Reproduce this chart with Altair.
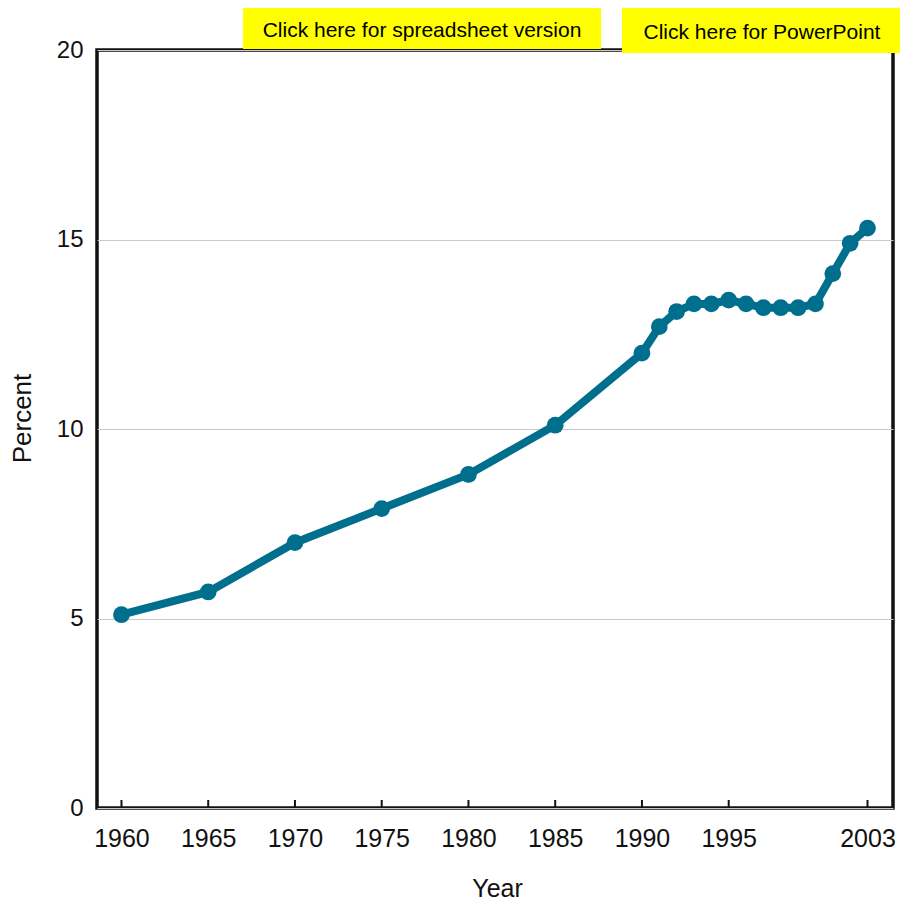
import altair as alt
import pandas as pd

years = [1960, 1965, 1970, 1975, 1980, 1985, 1990, 1991, 1992, 1993, 1994,
         1995, 1996, 1997, 1998, 1999, 2000, 2001, 2002, 2003]
percent = [5.1, 5.7, 7.0, 7.9, 8.8, 10.1, 12.0, 12.7, 13.1, 13.3, 13.3,
           13.4, 13.3, 13.2, 13.2, 13.2, 13.3, 14.1, 14.9, 15.3]
tick_years = [1960, 1965, 1970, 1975, 1980, 1985, 1990, 1995, 2003]
y_ticks = [0, 5, 10, 15, 20]
button_labels = ["Click here for spreadsheet version", "Click here for PowerPoint"]

W, H = 796, 758
TEAL = "#006f8e"
FONT = "Liberation Sans"

df = pd.DataFrame({"Year": years, "Percent": percent})
ticks_df = pd.DataFrame({"Year": tick_years})

xscale = alt.Scale(domain=[1958.59, 2004.47], nice=False, zero=False)
yscale = alt.Scale(domain=[0, 20], nice=False)

x_axis = alt.Axis(
    values=tick_years, format="d", title="Year", grid=False, ticks=False,
    domain=False, labelFont=FONT, labelFontSize=25, labelColor="#111111",
    labelPadding=18,
    titleFont=FONT, titleFontSize=25, titleFontWeight="normal", titleColor="#111111",
    titleX=400, titleY=80, titleAlign="center", titleBaseline="middle",
)
y_axis = alt.Axis(
    values=y_ticks, title="Percent", grid=True, gridColor="#c8c8c8", gridWidth=1,
    ticks=False, domain=False, labelFont=FONT, labelFontSize=24,
    labelColor="#111111", labelPadding=14,
    titleFont=FONT, titleFontSize=26, titleFontWeight="normal", titleColor="#111111",
    titleX=-75, titleY=368, titleAlign="center", titleBaseline="middle", titleAngle=270,
)

base = alt.Chart(df)
line = base.mark_line(color=TEAL, strokeWidth=8).encode(
    x=alt.X("Year:Q", scale=xscale, axis=x_axis),
    y=alt.Y("Percent:Q", scale=yscale, axis=y_axis),
)
points = base.mark_circle(color=TEAL, opacity=1, size=280).encode(
    x=alt.X("Year:Q", scale=xscale),
    y=alt.Y("Percent:Q", scale=yscale),
)
tick_marks = alt.Chart(ticks_df).mark_rule(color="#111111", strokeWidth=2).encode(
    x=alt.X("Year:Q", scale=xscale),
    y=alt.value(H),
    y2=alt.value(H - 8),
)

btn_df = pd.DataFrame({"label": button_labels})
btn1 = alt.Chart(btn_df.iloc[[0]]).mark_rect(color="#ffff00").encode(
    x=alt.value(146), x2=alt.value(504), y=alt.value(-44), y2=alt.value(-1))
btn2 = alt.Chart(btn_df.iloc[[1]]).mark_rect(color="#ffff00").encode(
    x=alt.value(525), x2=alt.value(805), y=alt.value(-42), y2=alt.value(3))
txt1 = alt.Chart(btn_df.iloc[[0]]).mark_text(
    font=FONT, fontSize=21, color="black", align="center", baseline="middle"
).encode(text="label:N", x=alt.value(325), y=alt.value(-19))
txt2 = alt.Chart(btn_df.iloc[[1]]).mark_text(
    font=FONT, fontSize=21, color="black", align="center", baseline="middle"
).encode(text="label:N", x=alt.value(665), y=alt.value(-17))

chart = alt.layer(line, points, tick_marks, btn1, btn2, txt1, txt2).properties(
    width=W, height=H,
    autosize=alt.AutoSizeParams(type="none"),
    padding={"left": 89, "top": 42, "right": 7, "bottom": 94},
    background="white",
).configure_view(stroke="#111111", strokeWidth=3.5)

chart.save("out.html", embed_options={"renderer": "svg", "actions": False})
